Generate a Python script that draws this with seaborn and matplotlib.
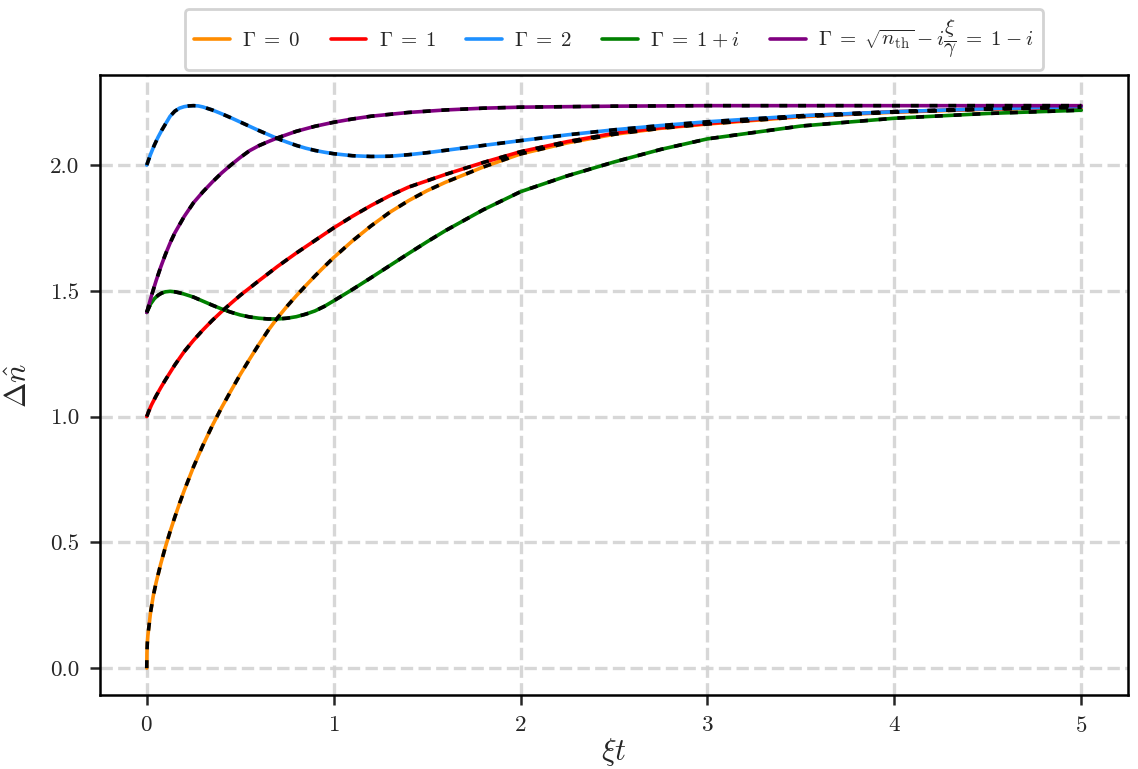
import pandas as pd
import matplotlib
matplotlib.use("Agg")
import matplotlib.pyplot as plt
import seaborn as sns

# values (xi*t, Delta n)
x_orange = [0.0, 0.001, 0.003, 0.006, 0.01, 0.02, 0.035, 0.05, 0.075, 0.1, 0.125, 0.15, 0.175,
            0.2, 0.25, 0.3, 0.35, 0.4, 0.45, 0.5, 0.55, 0.6, 0.65, 0.7, 0.75, 0.8, 0.85, 0.9,
            0.95, 1.0, 1.1, 1.2, 1.3, 1.4, 1.5, 1.6, 1.8, 2.0, 2.25, 2.5, 2.75, 3.0, 3.5, 4.0,
            4.5, 5.0]
y_orange = [0.0, 0.06, 0.10, 0.13, 0.155, 0.22, 0.288, 0.340, 0.415, 0.482, 0.543, 0.600, 0.654,
            0.705, 0.800, 0.885, 0.963, 1.035, 1.102, 1.167, 1.228, 1.287, 1.343, 1.393, 1.438,
            1.480, 1.520, 1.559, 1.596, 1.632, 1.698, 1.758, 1.812, 1.858, 1.898, 1.932, 1.992,
            2.044, 2.088, 2.122, 2.146, 2.163, 2.192, 2.210, 2.222, 2.230]

x_red = [0.0, 0.01, 0.025, 0.05, 0.075, 0.1, 0.15, 0.2, 0.25, 0.3, 0.35, 0.4, 0.45, 0.5, 0.6,
         0.7, 0.8, 0.9, 1.0, 1.1, 1.2, 1.3, 1.4, 1.6, 1.8, 2.0, 2.25, 2.5, 2.75, 3.0, 3.5, 4.0,
         4.5, 5.0]
y_red = [1.0, 1.02, 1.046, 1.082, 1.115, 1.146, 1.205, 1.258, 1.303, 1.344, 1.382, 1.417, 1.450,
         1.482, 1.540, 1.597, 1.650, 1.700, 1.750, 1.796, 1.839, 1.878, 1.912, 1.963, 2.010,
         2.053, 2.093, 2.126, 2.148, 2.165, 2.195, 2.212, 2.223, 2.230]

x_blue = [0.0, 0.02, 0.04, 0.06, 0.08, 0.1, 0.125, 0.15, 0.175, 0.2, 0.225, 0.25, 0.275, 0.3,
          0.35, 0.4, 0.45, 0.5, 0.55, 0.6, 0.65, 0.7, 0.75, 0.8, 0.85, 0.9, 0.95, 1.0, 1.1, 1.2,
          1.3, 1.4, 1.5, 1.75, 2.0, 2.25, 2.5, 2.75, 3.0, 3.5, 4.0, 4.5, 5.0]
y_blue = [2.0, 2.042, 2.078, 2.110, 2.138, 2.163, 2.194, 2.214, 2.226, 2.232, 2.235, 2.236, 2.235,
          2.231, 2.219, 2.204, 2.188, 2.171, 2.154, 2.137, 2.121, 2.105, 2.091, 2.078, 2.067,
          2.058, 2.051, 2.045, 2.037, 2.034, 2.035, 2.041, 2.049, 2.073, 2.097, 2.120, 2.140,
          2.157, 2.172, 2.196, 2.212, 2.224, 2.232]

x_green = [0.0, 0.02, 0.04, 0.06, 0.08, 0.1, 0.125, 0.15, 0.175, 0.2, 0.25, 0.3, 0.35, 0.4,
           0.45, 0.5, 0.55, 0.6, 0.65, 0.7, 0.75, 0.8, 0.85, 0.9, 0.95, 1.0, 1.1, 1.2, 1.3, 1.4,
           1.5, 1.6, 1.8, 2.0, 2.25, 2.5, 2.75, 3.0, 3.5, 4.0, 4.5, 5.0]
y_green = [1.414, 1.447, 1.468, 1.482, 1.491, 1.496, 1.498, 1.496, 1.492, 1.487, 1.475, 1.459,
           1.443, 1.428, 1.415, 1.404, 1.396, 1.391, 1.388, 1.388, 1.391, 1.397, 1.407, 1.420,
           1.438, 1.460, 1.505, 1.552, 1.600, 1.648, 1.695, 1.740, 1.822, 1.894, 1.957, 2.012,
           2.062, 2.104, 2.155, 2.186, 2.205, 2.218]

x_purple = [0.0, 0.025, 0.05, 0.075, 0.1, 0.125, 0.15, 0.2, 0.25, 0.3, 0.35, 0.4, 0.45, 0.5,
            0.55, 0.6, 0.65, 0.7, 0.8, 0.9, 1.0, 1.1, 1.2, 1.4, 1.6, 1.8, 2.0, 2.5, 3.0, 4.0, 5.0]
y_purple = [1.414, 1.480, 1.540, 1.595, 1.645, 1.690, 1.730, 1.795, 1.850, 1.893, 1.932, 1.968,
            2.000, 2.030, 2.057, 2.077, 2.093, 2.108, 2.134, 2.154, 2.170, 2.183, 2.194, 2.209,
            2.219, 2.226, 2.230, 2.234, 2.236, 2.236, 2.236]

labels = [r"$\Gamma\;=\;0$", r"$\Gamma\;=\;1$", r"$\Gamma\;=\;2$", r"$\Gamma\;=\;1\:+\:i$",
          r"$\Gamma\;=\;\sqrt{n_{\mathrm{th}}}\:-\:i\dfrac{\xi}{\gamma}\;=\;1\:-\:i$"]
colors = ["darkorange", "red", "dodgerblue", "green", "purple"]

sns.set_style("ticks")
plt.rcParams["font.family"] = "serif"
plt.rcParams["font.serif"] = ["cmr10", "DejaVu Serif"]
plt.rcParams["mathtext.fontset"] = "cm"
plt.rcParams["axes.formatter.use_mathtext"] = True

series = [(x_orange, y_orange), (x_red, y_red), (x_blue, y_blue),
          (x_green, y_green), (x_purple, y_purple)]

fig = plt.figure(figsize=(5.69, 3.845), dpi=200)
ax = fig.add_axes([0.0879, 0.0962, 0.9033, 0.8063])

for (xs, ys), lab, col in zip(series, labels, colors):
    df = pd.DataFrame({"x": xs, "y": ys})
    sns.lineplot(data=df, x="x", y="y", color=col, label=lab, lw=1.3, ax=ax, zorder=3)
for xs, ys in series:
    df = pd.DataFrame({"x": xs, "y": ys})
    sns.lineplot(data=df, x="x", y="y", color="black", lw=1.3, linestyle=(0, (2.2, 3.0)),
                 legend=False, ax=ax, zorder=4)

ax.set_xlim(-0.25, 5.25)
ax.set_ylim(-0.107, 2.358)
ax.set_xticks([0, 1, 2, 3, 4, 5])
ax.set_yticks([0.0, 0.5, 1.0, 1.5, 2.0])
ax.set_yticklabels(["0.0", "0.5", "1.0", "1.5", "2.0"])
ax.grid(True, color="lightgray", linestyle="--", lw=1.2, alpha=0.9)
ax.set_axisbelow(True)
for s in ax.spines.values():
    s.set_linewidth(0.9)
    s.set_color("black")
ax.tick_params(direction="out", length=3.5, width=0.9, labelsize=8.3, pad=4)
ax.set_xlabel(r"$\xi t$", fontsize=11, labelpad=0)
ax.set_ylabel(r"$\Delta \hat{n}$", fontsize=11, labelpad=6)

leg = ax.legend(loc="lower center", bbox_to_anchor=(0.5, 1.0), ncol=5, fontsize=7.5,
                frameon=True, fancybox=True, framealpha=1, edgecolor="lightgray",
                handlelength=1.7, handletextpad=0.6, columnspacing=1.45, borderpad=0.45,
                borderaxespad=0.25)
leg.get_frame().set_linewidth(1.0)

fig.savefig("out.png", dpi=200)
